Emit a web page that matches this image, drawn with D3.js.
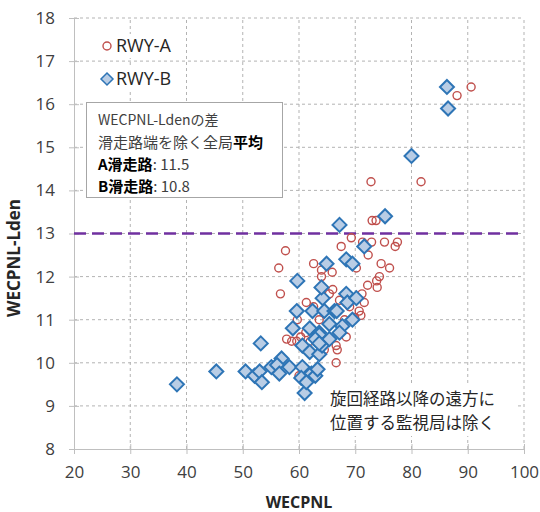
<!DOCTYPE html>
<html>
<head>
<meta charset="utf-8">
<script src="https://cdn.jsdelivr.net/npm/d3@7"></script>
<style>
  body { margin: 0; background: #fff; }
  svg text { font-family: "Open Sans", "Noto Sans CJK JP", sans-serif; }
  .jp { font-family: "Noto Sans CJK JP", "Open Sans", sans-serif; }
</style>
</head>
<body>
<div id="chart"></div>
<script>
(function(d3) {
'use strict';

// RWY-A (open circles)  [WECPNL, WECPNL-Lden]
var rwyA = [
  [90.6, 16.4], [88.1, 16.2], [81.7, 14.2], [72.8, 14.2], [73.0, 13.3], [73.7, 13.3],
  [69.3, 12.9], [67.5, 12.7], [71.3, 12.8], [72.9, 12.8], [72.3, 12.5], [75.2, 12.8],
  [77.5, 12.8], [77.1, 12.7], [57.6, 12.6], [56.4, 12.2], [62.6, 12.3], [64.0, 12.15],
  [65.9, 12.1], [64.0, 12.0], [70.2, 12.2], [74.6, 12.3], [76.1, 12.2], [74.3, 12.0],
  [73.8, 11.9], [73.9, 11.75], [72.2, 11.8], [71.2, 11.6], [65.4, 11.6], [56.7, 11.6],
  [61.3, 11.4], [67.2, 11.45], [71.6, 11.4], [70.7, 11.2], [71.0, 11.1], [69.9, 11.05],
  [59.7, 11.0], [63.6, 11.0], [68.1, 11.0], [68.4, 10.6], [66.8, 10.3], [66.6, 10.4],
  [66.6, 10.0], [57.8, 10.55], [58.7, 10.5], [59.6, 10.5], [60.3, 10.6], [61.2, 10.7],
  [60.0, 9.7], [64.5, 10.3], [62.6, 11.3], [66.0, 11.7], [69.0, 11.3], [62.0, 10.5]
];

// RWY-B (filled diamonds)
var rwyB = [
  [86.3, 16.4], [86.5, 15.9], [80.0, 14.8], [75.3, 13.4], [67.2, 13.2], [71.6, 12.7],
  [64.9, 12.3], [68.4, 12.4], [69.5, 12.3], [59.7, 11.9], [59.6, 11.2], [62.4, 11.2],
  [64.5, 11.2], [66.3, 11.2], [64.2, 11.5], [68.4, 11.6], [68.6, 11.4], [70.2, 11.5],
  [65.4, 10.9], [67.7, 10.85], [66.7, 11.2], [58.9, 10.8], [61.9, 10.8], [63.6, 10.7],
  [53.2, 10.45], [60.6, 10.4], [61.9, 10.25], [63.6, 10.2], [63.6, 10.65], [64.1, 10.4],
  [62.9, 10.55], [65.4, 10.55], [56.9, 10.1], [50.5, 9.8], [52.1, 9.7], [53.0, 9.8],
  [53.4, 9.55], [55.1, 9.9], [56.1, 9.95], [56.5, 9.75], [58.3, 9.9], [60.6, 9.9],
  [60.4, 9.65], [61.0, 9.3], [62.2, 9.75], [62.9, 9.7], [63.3, 9.85], [45.3, 9.8],
  [38.3, 9.5], [61.3, 9.55], [67.2, 10.7], [63.6, 10.45], [64.0, 11.75], [69.5, 11.0]
];

var xTicks = [20, 30, 40, 50, 60, 70, 80, 90, 100];
var yTicks = [8, 9, 10, 11, 12, 13, 14, 15, 16, 17, 18];
var threshold = 13;
var seriesNames = ['RWY-A', 'RWY-B'];
var noteLines = ['旋回経路以降の遠方に', '位置する監視局は除く'];

var width = 540, height = 512;
var margin = {left: 74, right: 16, top: 18, bottom: 63};

var x = d3.scaleLinear().domain([20, 100]).range([margin.left, width - margin.right]);
var y = d3.scaleLinear().domain([8, 18]).range([height - margin.bottom, margin.top]);

var svg = d3.select('#chart')
  .append('svg')
  .attr('width', width)
  .attr('height', height);

svg.append('rect').attr('width', width).attr('height', height).attr('fill', '#fff');

// grid
var grid = svg.append('g');
grid.selectAll('.gx')
  .data(xTicks.slice(1))
  .enter().append('line')
  .attr('x1', function(d) { return x(d); })
  .attr('x2', function(d) { return x(d); })
  .attr('y1', y(8)).attr('y2', y(18))
  .attr('stroke', '#b3b3b3')
  .attr('stroke-dasharray', '3,3');
grid.selectAll('.gy')
  .data(yTicks.slice(1))
  .enter().append('line')
  .attr('x1', x(20)).attr('x2', x(100))
  .attr('y1', function(d) { return y(d); })
  .attr('y2', function(d) { return y(d); })
  .attr('stroke', '#b3b3b3')
  .attr('stroke-dasharray', '3,3');

// axes
var xAxis = d3.axisBottom(x).tickValues(xTicks).tickSizeInner(5).tickSizeOuter(0).tickPadding(12);
var yAxis = d3.axisLeft(y).tickValues(yTicks).tickSizeInner(5).tickSizeOuter(0).tickPadding(14);

var gx = svg.append('g')
  .attr('transform', 'translate(0,' + y(8) + ')')
  .call(xAxis);
var gy = svg.append('g')
  .attr('transform', 'translate(' + x(20) + ',0)')
  .call(yAxis);

[gx, gy].forEach(function(g) {
  g.select('.domain').attr('stroke', '#bfbfbf');
  g.selectAll('.tick line').attr('stroke', '#bfbfbf');
  g.selectAll('.tick text')
    .attr('fill', '#404040')
    .style('font-size', '17px');
});
// cross ticks
gx.selectAll('.tick line').attr('y1', -5).attr('y2', 5);
gy.selectAll('.tick line').attr('x1', -5).attr('x2', 5);

svg.append('text')
  .attr('x', (x(20) + x(100)) / 2)
  .attr('y', 508)
  .attr('text-anchor', 'middle')
  .attr('fill', '#262626')
  .style('font-size', '16px')
  .style('font-weight', 'bold')
  .text('WECPNL');

svg.append('text')
  .attr('transform', 'translate(20,258) rotate(-90)')
  .attr('text-anchor', 'middle')
  .attr('fill', '#262626')
  .style('font-size', '17px')
  .style('font-weight', 'bold')
  .text('WECPNL-Lden');

// threshold line
svg.append('line')
  .attr('x1', x(20)).attr('x2', x(100))
  .attr('y1', y(threshold)).attr('y2', y(threshold))
  .attr('stroke', '#7030a0')
  .attr('stroke-width', 2.5)
  .attr('stroke-dasharray', '12,6');

var diamond = 'M0,-7L7,0L0,7L-7,0Z';

svg.append('g').selectAll('circle')
  .data(rwyA)
  .enter().append('circle')
  .attr('cx', function(d) { return x(d[0]); })
  .attr('cy', function(d) { return y(d[1]); })
  .attr('r', 4)
  .attr('fill', 'none')
  .attr('stroke', '#c0504d')
  .attr('stroke-width', 1.4);

svg.append('g').selectAll('path')
  .data(rwyB)
  .enter().append('path')
  .attr('transform', function(d) { return 'translate(' + x(d[0]) + ',' + y(d[1]) + ')'; })
  .attr('d', diamond)
  .attr('fill', '#b9cde5')
  .attr('stroke', '#2e75b6')
  .attr('stroke-width', 2);

// legend
var legend = svg.append('g');
seriesNames.forEach(function(name, i) {
  var ly = 46 + i * 33;
  legend.append('rect')
    .attr('x', 98).attr('y', ly - 12).attr('width', 80).attr('height', 24)
    .attr('fill', '#fff');
  if (i === 0) {
    legend.append('circle').attr('cx', 107).attr('cy', ly).attr('r', 4)
      .attr('fill', 'none').attr('stroke', '#c0504d').attr('stroke-width', 1.4);
  } else {
    legend.append('path').attr('transform', 'translate(107,' + ly + ')')
      .attr('d', 'M0,-6L6,0L0,6L-6,0Z')
      .attr('fill', '#b9cde5').attr('stroke', '#2e75b6').attr('stroke-width', 1.5);
  }
  legend.append('text')
    .attr('x', 116).attr('y', ly + 6)
    .attr('fill', '#262626')
    .style('font-size', '18px')
    .text(name);
});

// annotation box
var box = svg.append('g');
box.append('rect')
  .attr('x', 86.5).attr('y', 102.5).attr('width', 196).attr('height', 95)
  .attr('fill', '#fff').attr('stroke', '#a6a6a6');

var t1 = box.append('text').attr('class', 'jp').attr('x', 98).attr('y', 125)
  .attr('fill', '#404040').style('font-size', '14px');
t1.append('tspan').text('WECPNL-Ldenの差');

var t2 = box.append('text').attr('class', 'jp').attr('x', 98).attr('y', 148)
  .attr('fill', '#404040').style('font-size', '15px');
t2.append('tspan').text('滑走路端を除く全局');
t2.append('tspan').attr('fill', '#000').style('font-weight', 'bold').text('平均');

var t3 = box.append('text').attr('class', 'jp').attr('x', 98).attr('y', 170)
  .attr('fill', '#404040').style('font-size', '15px');
t3.append('tspan').attr('fill', '#000').style('font-weight', 'bold').text('A滑走路');
t3.append('tspan').text(': 11.5');

var t4 = box.append('text').attr('class', 'jp').attr('x', 98).attr('y', 192)
  .attr('fill', '#404040').style('font-size', '15px');
t4.append('tspan').attr('fill', '#000').style('font-weight', 'bold').text('B滑走路');
t4.append('tspan').text(': 10.8');

// note bottom right
var note = svg.append('g');
note.append('rect').attr('x', 326).attr('y', 386).attr('width', 190).attr('height', 50).attr('fill', '#fff');
note.selectAll('text')
  .data(noteLines)
  .enter().append('text')
  .attr('class', 'jp')
  .attr('x', 330)
  .attr('y', function(d, i) { return 405 + i * 24; })
  .attr('fill', '#262626')
  .style('font-size', '16.5px')
  .text(function(d) { return d; });

})(window.d3);
</script>
</body>
</html>
